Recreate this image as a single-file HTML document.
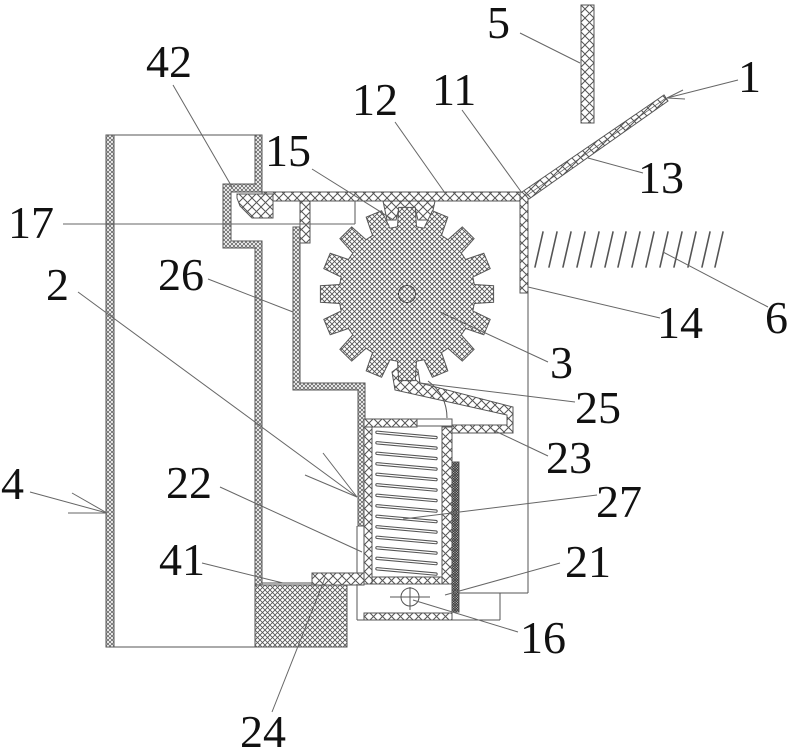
<!DOCTYPE html>
<html><head><meta charset="utf-8"><style>
html,body{margin:0;padding:0;background:#fff;}
svg{display:block;}
</style></head><body>
<svg width="800" height="751" viewBox="0 0 800 751" xmlns="http://www.w3.org/2000/svg">
<defs>
<pattern id="w" width="4" height="4" patternUnits="userSpaceOnUse"><rect width="4" height="4" fill="#fff"/><path d="M0 0L4 4M4 0L0 4" stroke="#666" stroke-width=".8"/></pattern>
<pattern id="f" width="5" height="5" patternUnits="userSpaceOnUse"><rect width="5" height="5" fill="#fff"/><path d="M0 0L5 5M5 0L0 5" stroke="#555" stroke-width=".85"/></pattern>
<pattern id="c" width="9" height="9" patternUnits="userSpaceOnUse"><rect width="9" height="9" fill="#fff"/><path d="M0 0L9 9M9 0L0 9" stroke="#555" stroke-width="1"/></pattern>
<pattern id="d" width="2.5" height="2.5" patternUnits="userSpaceOnUse"><rect width="2.5" height="2.5" fill="#ddd"/><path d="M0 0L2.5 2.5M2.5 0L0 2.5" stroke="#333" stroke-width=".8"/></pattern>
</defs>

<g stroke="#555" stroke-width="1" fill="none">
<line x1="106" y1="135" x2="262" y2="135"/>
<line x1="106" y1="647" x2="255" y2="647"/>
<rect x="106" y="135" width="8" height="512" fill="url(#w)"/>
<polygon points="255,135 262,135 262,192 231,192 231,241 262,241 262,585 255,585 255,248 223,248 223,184 255,184" fill="url(#w)"/>
<line x1="262" y1="583" x2="312" y2="583"/>

<rect x="255" y="585" width="92" height="62" fill="url(#f)"/>
<rect x="312" y="573" width="52" height="12" fill="url(#c)"/>

<polygon points="293,227 300,227 300,383 365,383 365,526 358,526 358,390 293,390" fill="url(#w)"/>
<rect x="300" y="201" width="10" height="42" fill="url(#c)"/>
<line x1="357" y1="526" x2="357" y2="573"/>

<rect x="262" y="192" width="262" height="9" fill="url(#c)"/>
<polygon points="237,194 273,194 273,218 252,218 240,206 237,198" fill="url(#c)"/>
<polygon points="383,201 435,201 431,220 418,220 415,208 399,208 396,220 387,220" fill="url(#c)"/>
<line x1="355" y1="201" x2="355" y2="224"/>

<rect x="520" y="192" width="8" height="101" fill="url(#c)"/>
<polygon points="522,192 664,95 668,101 529,199" fill="url(#c)"/>
<line x1="526" y1="196" x2="666" y2="98" stroke-width=".7"/>
<rect x="581" y="5" width="13" height="118" fill="url(#c)"/>

<line x1="528" y1="293" x2="528" y2="593"/>
<line x1="459" y1="593" x2="528" y2="593"/>
<line x1="500" y1="593" x2="500" y2="620"/>
<line x1="357" y1="584" x2="357" y2="620"/>
<line x1="357" y1="620" x2="500" y2="620"/>

<polygon points="392,372 400,366 413,365 418,370 420,383 513,407 513,433 452,433 452,425 507,425 507,415 395,390" fill="url(#c)"/>
<path d="M428,381 Q447,395 447,418"/>

<g transform="translate(407,294)">
<polygon fill="url(#f)" points="86.6,-8.3 86.6,8.3 67.3,9.5 65.8,17 83.2,25.4 76.8,40.8 58.6,34.5 54.3,40.9 67.1,55.3 55.3,67.1 40.9,54.3 34.5,58.6 40.8,76.8 25.4,83.2 17,65.8 9.5,67.3 8.3,86.6 -8.3,86.6 -9.5,67.3 -17,65.8 -25.4,83.2 -40.8,76.8 -34.5,58.6 -40.9,54.3 -55.3,67.1 -67.1,55.3 -54.3,40.9 -58.6,34.5 -76.8,40.8 -83.2,25.4 -65.8,17 -67.3,9.5 -86.6,8.3 -86.6,-8.3 -67.3,-9.5 -65.8,-17 -83.2,-25.4 -76.8,-40.8 -58.6,-34.5 -54.3,-40.9 -67.1,-55.3 -55.3,-67.1 -40.9,-54.3 -34.5,-58.6 -40.8,-76.8 -25.4,-83.2 -17,-65.8 -9.5,-67.3 -8.3,-86.6 8.3,-86.6 9.5,-67.3 17,-65.8 25.4,-83.2 40.8,-76.8 34.5,-58.6 40.9,-54.3 55.3,-67.1 67.1,-55.3 54.3,-40.9 58.6,-34.5 76.8,-40.8 83.2,-25.4 65.8,-17 67.3,-9.5"/>
<circle cx="0" cy="0" r="8.5"/>
</g>

<rect x="364" y="419" width="53" height="8" fill="url(#c)"/>
<rect x="417" y="419" width="35" height="7" fill="#fff"/>
<rect x="364" y="427" width="8" height="157" fill="url(#c)"/>
<rect x="442" y="427" width="10" height="157" fill="url(#c)"/>
<rect x="372" y="577" width="70" height="7" fill="url(#c)"/>
<rect x="452" y="462" width="7" height="150" fill="url(#d)"/>
<rect x="364" y="613" width="88" height="7" fill="url(#c)"/>

<circle cx="410" cy="597" r="9"/>
<line x1="390" y1="597" x2="430" y2="597"/>
<line x1="410" y1="587" x2="410" y2="610"/>
</g>

<g stroke-linecap="round">
<g stroke="#555" stroke-width="3.4">
<line x1="377" y1="432.3" x2="436" y2="437.6"/>
<line x1="377" y1="442.8" x2="436" y2="448.1"/>
<line x1="377" y1="453.3" x2="436" y2="458.6"/>
<line x1="377" y1="463.8" x2="436" y2="469.1"/>
<line x1="377" y1="474.3" x2="436" y2="479.6"/>
<line x1="377" y1="484.8" x2="436" y2="490.1"/>
<line x1="377" y1="495.3" x2="436" y2="500.6"/>
<line x1="377" y1="505.8" x2="436" y2="511.1"/>
<line x1="377" y1="516.3" x2="436" y2="521.6"/>
<line x1="377" y1="526.8" x2="436" y2="532.1"/>
<line x1="377" y1="537.3" x2="436" y2="542.6"/>
<line x1="377" y1="547.8" x2="436" y2="553.1"/>
<line x1="377" y1="558.3" x2="436" y2="563.6"/>
<line x1="377" y1="568.8" x2="436" y2="574.1"/>
</g>
<g stroke="#fff" stroke-width="1.3">
<line x1="377" y1="432.3" x2="436" y2="437.6"/>
<line x1="377" y1="442.8" x2="436" y2="448.1"/>
<line x1="377" y1="453.3" x2="436" y2="458.6"/>
<line x1="377" y1="463.8" x2="436" y2="469.1"/>
<line x1="377" y1="474.3" x2="436" y2="479.6"/>
<line x1="377" y1="484.8" x2="436" y2="490.1"/>
<line x1="377" y1="495.3" x2="436" y2="500.6"/>
<line x1="377" y1="505.8" x2="436" y2="511.1"/>
<line x1="377" y1="516.3" x2="436" y2="521.6"/>
<line x1="377" y1="526.8" x2="436" y2="532.1"/>
<line x1="377" y1="537.3" x2="436" y2="542.6"/>
<line x1="377" y1="547.8" x2="436" y2="553.1"/>
<line x1="377" y1="558.3" x2="436" y2="563.6"/>
<line x1="377" y1="568.8" x2="436" y2="574.1"/>
</g>
</g>

<g stroke="#555" stroke-width="1.6" stroke-linecap="round">
<line x1="543" y1="232" x2="535" y2="267"/>
<line x1="557" y1="232" x2="549" y2="267"/>
<line x1="571" y1="232" x2="563" y2="267"/>
<line x1="585" y1="232" x2="577" y2="267"/>
<line x1="599" y1="232" x2="591" y2="267"/>
<line x1="613" y1="232" x2="605" y2="267"/>
<line x1="626" y1="232" x2="618" y2="267"/>
<line x1="640" y1="232" x2="632" y2="267"/>
<line x1="654" y1="232" x2="646" y2="267"/>
<line x1="668" y1="232" x2="660" y2="267"/>
<line x1="682" y1="232" x2="674" y2="267"/>
<line x1="696" y1="232" x2="688" y2="267"/>
<line x1="710" y1="232" x2="702" y2="267"/>
<line x1="723" y1="232" x2="715" y2="267"/>
</g>

<g stroke="#666" stroke-width="1" fill="none">
<line x1="520" y1="33" x2="580" y2="63"/>
<line x1="395" y1="122" x2="445" y2="193"/>
<line x1="462" y1="110" x2="522" y2="193"/>
<line x1="173" y1="85" x2="232" y2="187"/>
<line x1="312" y1="169" x2="392" y2="219"/>
<line x1="63" y1="224" x2="355" y2="224"/>
<line x1="208" y1="279" x2="293" y2="312"/>
<line x1="78" y1="292" x2="357" y2="497"/>
<line x1="305" y1="475" x2="357" y2="497"/>
<line x1="323" y1="453" x2="357" y2="497"/>
<line x1="738" y1="80" x2="667" y2="98"/>
<line x1="683" y1="90" x2="667" y2="98"/>
<line x1="685" y1="99" x2="667" y2="98"/>
<line x1="643" y1="173" x2="588" y2="158"/>
<line x1="660" y1="318" x2="528" y2="287"/>
<line x1="768" y1="307" x2="663" y2="252"/>
<line x1="548" y1="362" x2="440" y2="312"/>
<line x1="575" y1="402" x2="420" y2="383"/>
<line x1="548" y1="456" x2="493" y2="430"/>
<line x1="597" y1="495" x2="403" y2="519"/>
<line x1="560" y1="563" x2="445" y2="595"/>
<line x1="518" y1="632" x2="413" y2="600"/>
<line x1="220" y1="487" x2="362" y2="552"/>
<line x1="202" y1="563" x2="283" y2="583"/>
<line x1="272" y1="712" x2="325" y2="578"/>
<line x1="30" y1="492" x2="107" y2="513"/>
<line x1="72" y1="493" x2="107" y2="513"/>
<line x1="68" y1="513" x2="107" y2="513"/>
</g>

<g font-family="'Liberation Serif', 'DejaVu Serif', serif" font-size="46" fill="#111">
<text x="487" y="38">5</text>
<text x="352" y="115">12</text>
<text x="432" y="105">11</text>
<text x="146" y="77">42</text>
<text x="265" y="166">15</text>
<text x="738" y="92">1</text>
<text x="638" y="193">13</text>
<text x="8" y="238">17</text>
<text x="657" y="338">14</text>
<text x="765" y="333">6</text>
<text x="158" y="290">26</text>
<text x="46" y="300">2</text>
<text x="550" y="378">3</text>
<text x="575" y="423">25</text>
<text x="546" y="473">23</text>
<text x="1" y="499">4</text>
<text x="166" y="498">22</text>
<text x="596" y="517">27</text>
<text x="565" y="577">21</text>
<text x="159" y="575">41</text>
<text x="520" y="653">16</text>
<text x="240" y="747">24</text>
</g>
</svg>
</body></html>
